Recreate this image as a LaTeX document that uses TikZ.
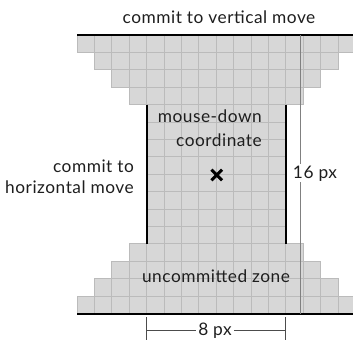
\documentclass[tikz,border=0pt]{standalone}
\usepackage{fontspec}
\setmainfont{Lato}
\newfontfamily\lblfont[LetterSpace=3]{Lato}
\usetikzlibrary{calc}
\definecolor{cellfill}{HTML}{D7D7D7}
\definecolor{cellline}{HTML}{BBBBBB}
\definecolor{txt}{HTML}{1E1E1E}
\begin{document}
\begin{tikzpicture}[x=1pt,y=-1pt,
  cell/.style={fill=cellfill,draw=cellline,line width=0.8pt},
  heavy/.style={draw=black,line width=2pt},
  dimthin/.style={draw=black!50,line width=0.8pt},
  dimdark/.style={draw=black!70,line width=1pt},
  lbl/.style={font=\lblfont\fontsize{17.3}{21}\selectfont,text=txt,inner sep=1pt},
  xmark/.style={draw=black,line width=3pt}]
\useasboundingbox (0,0) rectangle (353,343);
\clip (0,0) rectangle (353,343);
\def\s{17.4}
% cells
\foreach \r/\n in {0/16,1/14,2/12,3/10,4/8,5/8,6/8,7/8,8/8,9/8,10/8,11/8,12/10,13/12,14/14,15/16}{
  \foreach \c in {1,...,\n}{
    \pgfmathsetmacro\xl{77+(16-\n)/2*\s+(\c-1)*\s}
    \pgfmathsetmacro\yt{35+\r*\s}
    \path[cell] (\xl,\yt) rectangle ++(\s,\s);
  }
}
% heavy lines
\coordinate (tl) at (77,35);
\coordinate (tr) at (360,35);
\coordinate (bl) at (77,313.5);
\coordinate (br) at (360,313.5);
\draw[heavy] (tl) -- (tr);
\draw[heavy] (bl) -- (br);
\coordinate (vlt) at (146.6,104.6);
\coordinate (vlb) at (146.6,243.8);
\coordinate (vrt) at (285.8,104.6);
\coordinate (vrb) at (285.8,243.8);
\draw[heavy] (vlt) -- (vlb);
\draw[heavy] (vrt) -- (vrb);
% labels
\node[lbl,anchor=base] (top) at (219,23) {commit to vertical move};
\node[lbl,anchor=base east] (left1) at (135,172) {commit to};
\node[lbl,anchor=base east] (left2) at (135,193) {horizontal move};
\node[lbl,anchor=base east] (mouse1) at (263,122) {mouse-down};
\node[lbl,anchor=base east] (mouse2) at (263,146) {coordinate};
\node[lbl,anchor=base] (zone) at (216,282) {uncommitted zone};
% x mark
\coordinate (xm) at (216.7,175);
\draw[xmark] ($(xm)+(-5.3,-5.3)$) -- ($(xm)+(5.3,5.3)$);
\draw[xmark] ($(xm)+(-5.3,5.3)$) -- ($(xm)+(5.3,-5.3)$);
% 16 px dimension
\node[lbl,anchor=base] (l16) at (315,178) {16 px};
\coordinate (d16t) at (300.7,35);
\coordinate (d16b) at (300.7,313.5);
\draw[dimthin] (d16t) -- (d16t |- l16.north);
\draw[dimthin] (d16b) -- (d16b |- l16.south);
% 8 px dimension
\node[lbl,anchor=base,inner sep=2pt] (l8) at (215,335.5) {8 px};
\coordinate (d8l) at (146.7,330);
\coordinate (d8r) at (285.7,330);
\coordinate (d8lt) at (146.7,317);
\coordinate (d8lb) at (146.7,340);
\coordinate (d8rt) at (285.7,317);
\coordinate (d8rb) at (285.7,340);
\draw[dimdark] (d8lt) -- (d8lb);
\draw[dimdark] (d8rt) -- (d8rb);
\draw[dimdark] (d8l) -- (d8l -| l8.west);
\draw[dimdark] (d8r) -- (d8r -| l8.east);
\end{tikzpicture}
\end{document}
